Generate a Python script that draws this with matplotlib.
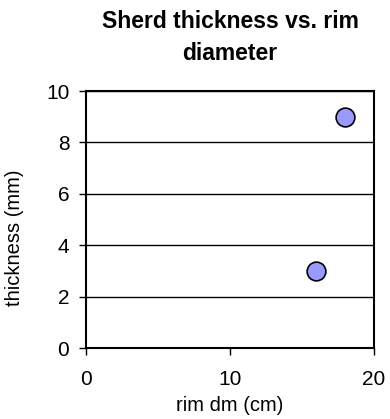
import matplotlib
matplotlib.use("Agg")
import matplotlib.pyplot as plt

plt.rcParams['font.family'] = ['Liberation Sans', 'DejaVu Sans']

rim_dm = [16, 18]
thickness = [3, 9]
x_ticks = [0, 10, 20]
y_ticks = [0, 2, 4, 6, 8, 10]

fig = plt.figure(figsize=(3.9, 4.19), dpi=100)
ax = fig.add_axes([86/390, 1-348/419, (374-86)/390, (348-91)/419])
ax.set_xlim(0, 20)
ax.set_ylim(0, 10)
ax.set_xticks(x_ticks)
ax.set_yticks(y_ticks)
ax.yaxis.grid(True, color='black', linewidth=1.0)
ax.set_axisbelow(True)
ax.plot(rim_dm, thickness, 'o', markersize=13.5, markerfacecolor='#9999FF',
        markeredgecolor='black', markeredgewidth=1.2, clip_on=False, zorder=3)
for s in ax.spines.values():
    s.set_linewidth(1.5)
    s.set_color('black')
ax.tick_params(axis='both', direction='out', length=5, width=1, labelsize=15, color='black')
ax.tick_params(axis='x', pad=11)
ax.tick_params(axis='y', pad=7)
ax.set_xlabel('rim dm (cm)', fontsize=14.5)
ax.xaxis.set_label_coords(0.5, (348-396)/257)
ax.set_ylabel('thickness (mm)', fontsize=14.5)
ax.yaxis.set_label_coords((24-86)/288, (348-238)/257)
ax.set_title('Sherd thickness vs. rim\ndiameter', fontsize=16.5, fontweight='bold', pad=22, linespacing=1.5)
fig.savefig('out.png', dpi=100)
